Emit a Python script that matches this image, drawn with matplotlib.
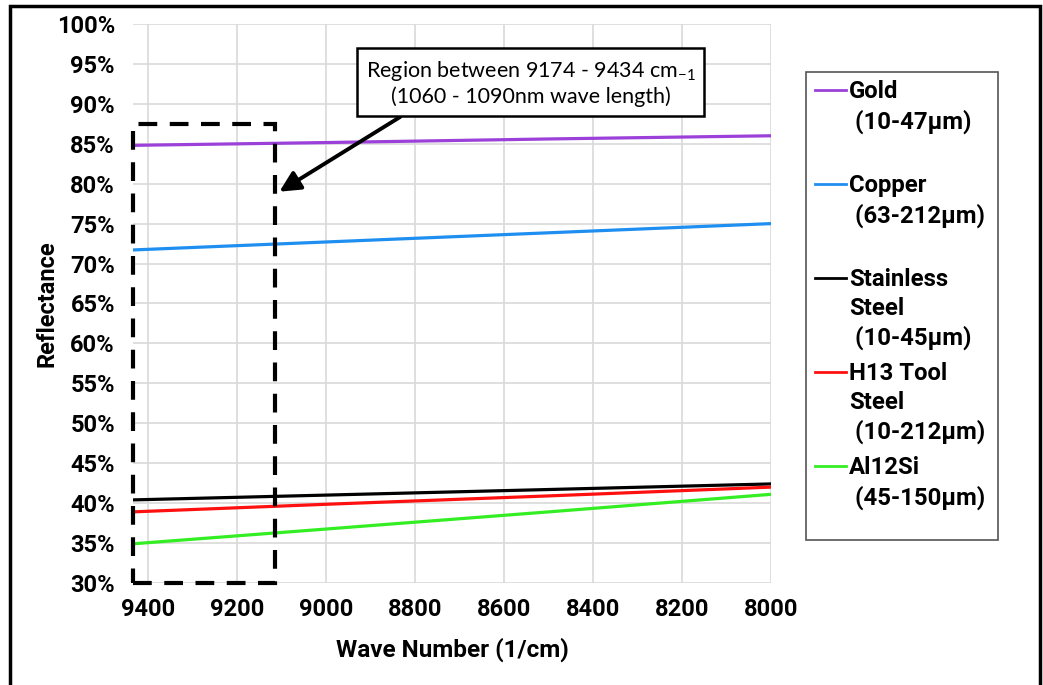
import numpy as np
import matplotlib.pyplot as plt
from matplotlib.patches import Rectangle
from matplotlib.lines import Line2D

plt.rcParams['font.family'] = ['Roboto', 'DejaVu Sans']

# wave number (1/cm) and reflectance (%)
wave = [9434, 9000, 8500, 8000]
gold = [84.8, 85.15, 85.6, 86.0]
copper = [71.7, 72.7, 73.85, 75.0]
stainless = [40.4, 41.0, 41.7, 42.4]
h13 = [38.9, 39.85, 40.9, 42.0]
alsi = [34.9, 36.75, 38.9, 41.1]

labels = ['Gold\n (10-47µm)', 'Copper\n (63-212µm)', 'Stainless\nSteel\n (10-45µm)',
          'H13 Tool\nSteel\n (10-212µm)', 'Al12Si\n (45-150µm)']
colors = ['#9b40d8', '#1e8ff0', '#000000', '#ff1010', '#33ee22']
series = [gold, copper, stainless, h13, alsi]

fig = plt.figure(figsize=(10.43, 6.85), dpi=100)
ax = fig.add_axes([0.1275, 0.149, 0.612, 0.816])

for s, c, l in zip(series, colors, labels):
    ax.plot(wave, s, color=c, lw=2.3, label=l)

ax.set_xlim(9434, 8000)
ax.set_ylim(30, 100)
ax.set_xticks(np.arange(9400, 7999, -200))
ax.set_yticks(np.arange(30, 101, 5))
ax.set_yticklabels(['%d%%' % v for v in range(30, 101, 5)])
ax.tick_params(axis='y', length=0, labelsize=17, pad=13)
ax.tick_params(axis='x', length=0, labelsize=17, pad=11)
for t in ax.get_xticklabels() + ax.get_yticklabels():
    t.set_fontweight('bold')
ax.grid(True, color='#d9d9d9', lw=1.2)
for sp in ax.spines.values():
    sp.set_visible(False)
ax.set_xlabel('Wave Number (1/cm)', fontsize=17.5, fontweight='bold', labelpad=12)
ax.set_ylabel('Reflectance', fontsize=17, fontweight='bold', labelpad=-1)

# dashed region box
ax.add_patch(Rectangle((9434, 30), 9114 - 9434, 57.5, fill=False, ls=(0, (4.5, 3)),
                       lw=3, ec='black', clip_on=False, zorder=5))

# annotation with arrow
ax.annotate('Region between 9174 - 9434 cm$_{\\mathregular{-1}}$\n(1060 - 1090nm wave length)',
            xy=(9105, 79.0), xytext=(8540, 92.6), fontsize=15.5, ha='center', va='center',
            family=['Lato', 'DejaVu Sans'], linespacing=1.25,
            bbox=dict(boxstyle='square,pad=0.4', fc='white', ec='black', lw=1.8),
            arrowprops=dict(arrowstyle='-|>,head_length=0.8,head_width=0.4', lw=2.8, color='black',
                            shrinkA=0, shrinkB=0, relpos=(0.15, 0)),
            zorder=6)

# legend drawn by hand so that the handles sit on the first line of each label
fig.patches.append(Rectangle((806 / 1043, 1 - 540 / 685), 192 / 1043, 468 / 685, fill=False,
                             ec='#555555', lw=1.2, transform=fig.transFigure))
ys = [90, 184, 278, 372, 466]
for line, y in zip(ax.get_lines(), ys):
    yf = 1 - y / 685
    fig.lines.append(Line2D([815 / 1043, 846 / 1043], [yf, yf], color=line.get_color(),
                            lw=2, transform=fig.transFigure))
    fig.text(849 / 1043, 1 - (y - 10) / 685, line.get_label(), fontsize=17.2, fontweight='bold',
             va='top', ha='left', linespacing=1.32)

# outer frame
fig.patches.append(Rectangle((10 / 1043, -0.01), 1030 / 1043, 1.01 - 6 / 685, fill=False,
                             ec='black', lw=2.5, transform=fig.transFigure))

fig.savefig('out.png', dpi=100)
